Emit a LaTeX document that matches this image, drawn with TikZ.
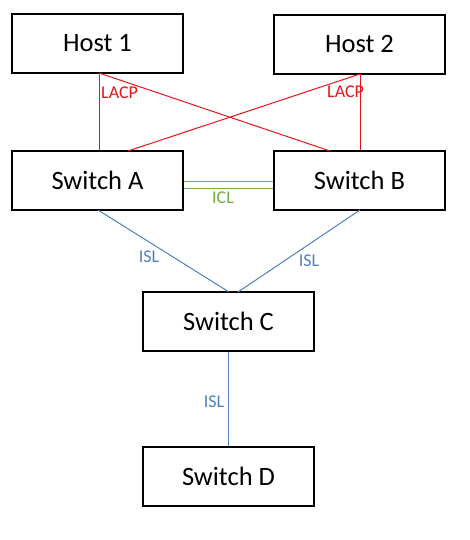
\documentclass[tikz,border=0pt]{standalone}
\usepackage{fontspec}
\setmainfont{Carlito}
\begin{document}
\begin{tikzpicture}[x=1pt,y=-1pt,
  box/.style={draw=black,line width=2pt,minimum width=171pt,minimum height=59pt,inner sep=0pt,font=\fontsize{26.5}{30}\selectfont},
  lacp/.style={draw=lacpred,line width=1pt},
  isl/.style={draw=islblue,line width=1pt},
  icl/.style={draw=iclgreen,line width=1pt},
  lbl/.style={font=\fontsize{18}{21}\selectfont,inner sep=0pt}]
\definecolor{lacpred}{HTML}{E8141B}
\definecolor{islblue}{HTML}{4F81BD}
\definecolor{iclgreen}{HTML}{70AD47}
\useasboundingbox (0,0) rectangle (469,540);
\fill[white] (0,0) rectangle (469,540);
\node[box] (h1) at (97.5,43.5) {Host 1};
\node[box] (h2) at (359.5,44.5) {Host 2};
\node[box] (sa) at (97.5,180.5) {Switch A};
\node[box] (sb) at (359.5,180.5) {Switch B};
\node[box] (sc) at (228.5,321.5) {Switch C};
\node[box] (sd) at (228.5,476.5) {Switch D};
% LACP
\coordinate (h1b) at (99,73);
\coordinate (h2b) at (360,74);
\coordinate (sbl) at (330,151);
\coordinate (sar) at (128,151);
\draw[lacp] (h1b) -- (sa.north -| h1b);
\draw[lacp] (h1b) -- (sbl);
\draw[lacp] (h2b) -- (sb.north -| h2b);
\draw[lacp] (h2b) -- (sar);
\node[lbl,text=lacpred,anchor=west] (l1) at (101,93) {LACP};
\node[lbl,text=lacpred,anchor=west] (l2) at (327,92) {LACP};
% ICL
\draw[icl] (sa.east |- 0,181) -- (sb.west |- 0,181);
\draw[icl] (sa.east |- 0,188.5) -- (sb.west |- 0,188.5);
\node[lbl,text=iclgreen] (icl) at (223,198) {ICL};
% ISL
\coordinate (sab) at (98,210);
\coordinate (sbb) at (360,210);
\coordinate (ct1) at (229,292);
\coordinate (ct2) at (238,292);
\draw[isl] (sab) -- (ct1);
\draw[isl] (sbb) -- (ct2);
\draw[isl] (sc.south) -- (sd.north);
\node[lbl,text=islblue] (i1) at (149,257) {ISL};
\node[lbl,text=islblue] (i2) at (309,261) {ISL};
\node[lbl,text=islblue] (i3) at (214,402) {ISL};
\end{tikzpicture}
\end{document}
